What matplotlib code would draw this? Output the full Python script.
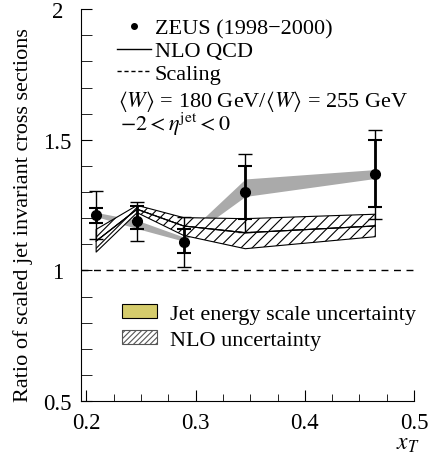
import matplotlib
matplotlib.use("Agg")
import matplotlib.pyplot as plt
from matplotlib.lines import Line2D
from matplotlib.patches import Patch
from matplotlib.ticker import MultipleLocator

plt.rcParams['font.family'] = ['Liberation Serif', 'DejaVu Serif']
plt.rcParams['mathtext.fontset'] = 'stix'
plt.rcParams['hatch.linewidth'] = 0.8

# ZEUS data points
xT = [0.209, 0.2465, 0.289, 0.3455, 0.4645]
ratio = [1.212, 1.19, 1.108, 1.30, 1.37]
stat_lo = [1.183, 1.157, 1.065, 1.198, 1.243]
stat_hi = [1.238, 1.246, 1.157, 1.40, 1.499]
tot_lo = [1.119, 1.111, 1.014, 1.146, 1.198]
tot_hi = [1.304, 1.263, 1.204, 1.444, 1.537]

# jet energy scale band
jes_lo = [1.206, 1.160, 1.112, 1.283, 1.352]
jes_hi = [1.222, 1.192, 1.128, 1.350, 1.386]

# NLO QCD with uncertainty
nlo = [1.112, 1.234, 1.170, 1.144, 1.170]
nlo_lo = [1.070, 1.221, 1.134, 1.083, 1.129]
nlo_hi = [1.157, 1.249, 1.202, 1.198, 1.215]

FS = 16

fig = plt.figure(figsize=(4.3, 4.6), dpi=100)
ax = fig.add_axes([0.188, 0.126, 0.775, 0.852])

ax.fill_between(xT, jes_lo, jes_hi, color='#aaaaaa', lw=0, zorder=1)
ax.fill_between(xT, nlo, nlo_hi, facecolor='white', edgecolor='black',
                hatch='///', lw=0.8, zorder=2)
ax.fill_between(xT, nlo_lo, nlo, facecolor='white', edgecolor='black',
                hatch='///', lw=0.8, zorder=2)
ax.plot(xT, nlo, color='black', lw=0.8, zorder=3)

ax.axhline(1.0, color='black', lw=1, ls=(0, (5, 4)), zorder=1)

err_tot = [[r - l for r, l in zip(ratio, tot_lo)], [h - r for r, h in zip(ratio, tot_hi)]]
err_stat = [[r - l for r, l in zip(ratio, stat_lo)], [h - r for r, h in zip(ratio, stat_hi)]]
ax.errorbar(xT, ratio, yerr=err_tot, fmt='none', ecolor='black', elinewidth=1,
            capsize=5, capthick=1, zorder=4)
ax.errorbar(xT, ratio, yerr=err_stat, fmt='o', color='black', ms=7,
            elinewidth=2, capsize=5, capthick=1.5, zorder=5)

ax.set_xlim(0.195, 0.5)
ax.set_ylim(0.5, 2.0)
ax.xaxis.set_minor_locator(MultipleLocator(0.025))
ax.yaxis.set_minor_locator(MultipleLocator(0.1))
ax.set_xticks([0.2, 0.3, 0.4, 0.5])
ax.set_xticklabels(['0.2', '0.3', '0.4', '0.5'])
ax.set_yticks([0.5, 1.0, 1.5, 2.0])
ax.set_yticklabels(['0.5', '1', '1.5', '2'])
ax.tick_params(which='both', direction='in', labelsize=FS + 0.5)
ax.tick_params(which='major', length=8)
ax.tick_params(which='minor', length=5)
ax.tick_params(axis='x', which='major', pad=8)
ax.tick_params(axis='y', which='minor', length=8)
ax.tick_params(axis='y', which='major', pad=17)
for lab in ax.get_yticklabels():
    lab.set_horizontalalignment('center')
for s in ['top', 'right']:
    ax.spines[s].set_visible(False)

ax.set_ylabel('Ratio of scaled jet invariant cross sections', fontsize=FS)
ax.yaxis.set_label_coords(-0.144, 0.477)
ax.set_xlabel('$x_T$', fontsize=FS + 1)
ax.xaxis.set_label_coords(0.98, -0.082)

top_handles = [
    Line2D([], [], marker='o', color='black', ls='none', ms=4),
    Line2D([], [], color='black', lw=1),
    Line2D([], [], color='black', lw=1, ls=(0, (3, 2))),
]
leg1 = ax.legend(top_handles, ['ZEUS (1998\u22122000)', 'NLO QCD', 'Scaling'],
                 loc='upper left', bbox_to_anchor=(0.108, 0.977), frameon=False,
                 fontsize=FS, handlelength=1.55, handletextpad=0.15,
                 labelspacing=0.1, borderpad=0, borderaxespad=0)
ax.add_artist(leg1)
ax.text(0.111, 0.768, r'$\langle W\rangle$ = 180 GeV/$\langle W\rangle$ = 255 GeV',
        transform=ax.transAxes, fontsize=FS, va='center')
ax.text(0.117, 0.708, r'$-2 < \eta^{\rm jet} < 0$',
        transform=ax.transAxes, fontsize=FS, va='center')

bot_handles = [
    Patch(facecolor='#d5cc6c', edgecolor='black', lw=0.8),
    Patch(facecolor='white', edgecolor='#555555', hatch='//////', lw=0.8),
]
ax.legend(bot_handles, ['Jet energy scale uncertainty', 'NLO uncertainty'],
          loc='upper left', bbox_to_anchor=(0.123, 0.247), frameon=False,
          fontsize=FS, handlelength=1.6, handleheight=0.6, handletextpad=0.55,
          labelspacing=0.25, borderpad=0, borderaxespad=0)

fig.savefig('out.png', dpi=100)
